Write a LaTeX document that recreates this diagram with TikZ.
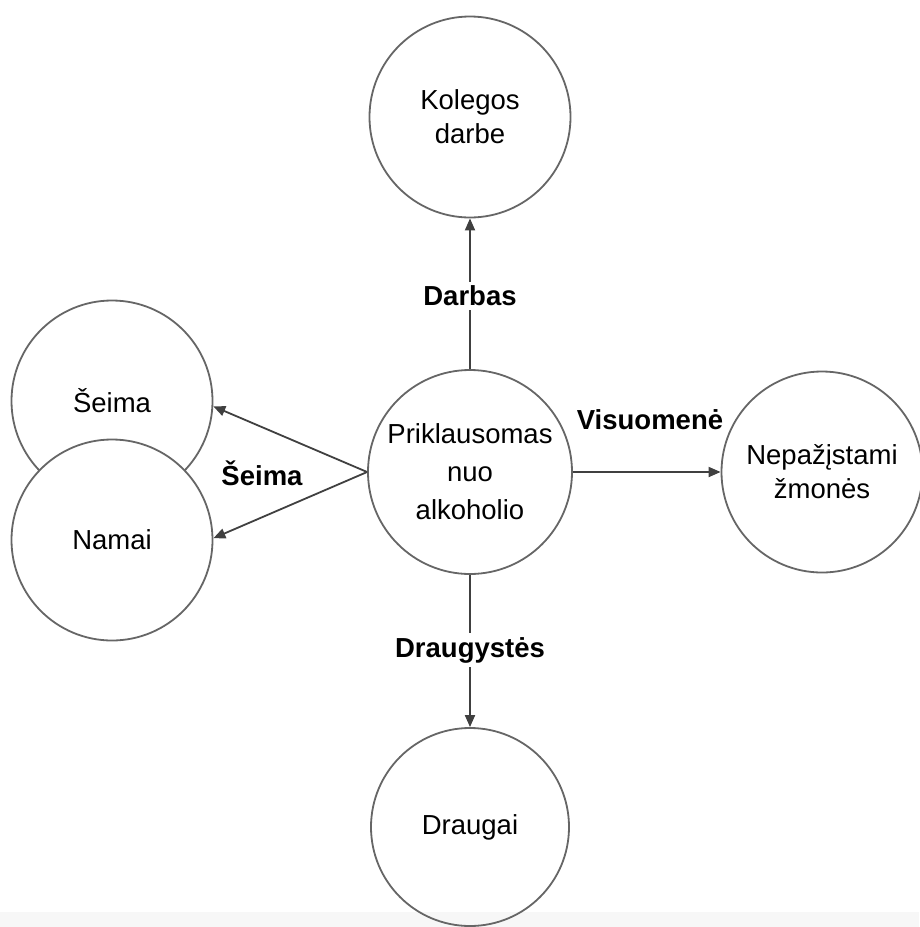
\documentclass[tikz,border=0pt]{standalone}
\usepackage{fontspec}
\setmainfont{Liberation Sans}
\usetikzlibrary{arrows.meta}
\begin{document}
\begin{tikzpicture}[x=1pt,y=-1pt,
  bubble/.style={circle,draw=black!60,line width=1.8pt,minimum size=201pt,inner sep=0pt,align=center,font=\fontsize{27.5}{34}\selectfont},
  link/.style={draw=black!75,line width=1.8pt,-{Triangle[length=12pt,width=10pt]}},
  lbl/.style={font=\fontsize{27.5}{30}\selectfont\bfseries,fill=white,inner sep=4pt}]
\useasboundingbox (0,0) rectangle (919,927);
\fill[black!3] (0,912) rectangle (919,927);
\node[bubble] (kol) at (470,117) {Kolegos\\darbe};
\node[bubble] (seima) at (112,401) {Šeima};
\node[bubble,fill=white] (namai) at (112,540) {Namai};
\node[bubble,minimum size=204pt,font=\fontsize{27.5}{38}\selectfont] (pri) at (470,472) {Priklausomas\\nuo\\alkoholio};
\node[bubble] (nep) at (822,472) {Nepažįstami\\žmonės};
\node[bubble,minimum size=198pt] (drg) at (470,827) {Draugai};
\draw[link] (pri.north) -- (kol.south);
\draw[link] (pri.west) -- (seima.-3);
\draw[link] (pri.west) -- (namai.1);
\draw[link] (pri.east) -- (nep.west);
\draw[link] (pri.south) -- (drg.north);
\node[lbl] (ldarbas) at (470,296) {Darbas};
\node[lbl,fill=none] (lseima) at (262,473) {Šeima};
\node[lbl,fill=none] (lvis) at (650,420) {Visuomenė};
\node[lbl] (ldrg) at (470,650) {Draugystės};
\end{tikzpicture}
\end{document}
